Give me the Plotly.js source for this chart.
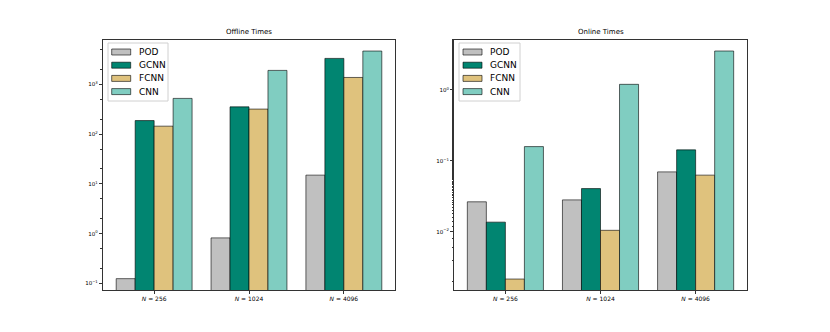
<!DOCTYPE html>
<html><head><meta charset="utf-8">
<script src="https://cdn.plot.ly/plotly-3.0.1.min.js"></script>
<style>html,body{margin:0;padding:0;background:#fff}#c{width:830px;height:332px}</style>
</head><body><div id="c"></div>
<script>
const categories = ["<i>N</i> = 256", "<i>N</i> = 1024", "<i>N</i> = 4096"];
const methods = ["POD", "GCNN", "FCNN", "CNN"];
const colors = ["#c0c0c0", "#018571", "#dfc27d", "#80cdc1"];
const offlinePOD  = [0.124, 0.82, 15];
const offlineGCNN = [188, 355, 3350];
const offlineFCNN = [145, 320, 1385];
const offlineCNN  = [525, 1920, 4710];
const onlinePOD  = [0.0265, 0.0282, 0.070];
const onlineGCNN = [0.0137, 0.0407, 0.143];
const onlineFCNN = [0.00216, 0.0105, 0.063];
const onlineCNN  = [0.159, 1.2, 3.54];
const offlineTickVals = [0.1, 1, 10, 100, 1000];
const offlineTickText = ["10<sup>\u22121</sup>", "10<sup>0</sup>", "10<sup>1</sup>", "10<sup>2</sup>", "10<sup>3</sup>"];
const onlineTickVals = [0.01, 0.1, 1];
const onlineTickText = ["10<sup>\u22122</sup>", "10<sup>\u22121</sup>", "10<sup>0</sup>"];

const offline = [offlinePOD, offlineGCNN, offlineFCNN, offlineCNN];
const online = [onlinePOD, onlineGCNN, onlineFCNN, onlineCNN];
const edge = 'rgba(0,0,0,0.6)';

const traces = [];
methods.forEach((m, i) => {
  traces.push({type:'bar', x:categories, y:offline[i], name:m, xaxis:'x', yaxis:'y',
    marker:{color:colors[i], line:{color:edge, width:1}}, showlegend:false});
});
methods.forEach((m, i) => {
  traces.push({type:'bar', x:categories, y:online[i], name:m, xaxis:'x2', yaxis:'y2',
    marker:{color:colors[i], line:{color:edge, width:1}}, showlegend:false});
});

const tf = {size:5.5, family:'DejaVu Sans', color:'#000'};
const axX = {type:'category', range:[-0.54, 2.54], showline:true, mirror:true, linecolor:'#333', linewidth:1,
  ticks:'outside', ticklen:3, tickcolor:'#333', tickfont:{size:6, family:'DejaVu Sans', color:'#000'}, showgrid:false, zeroline:false};
const axY = {type:'log', showline:true, mirror:true, linecolor:'#333', linewidth:1,
  ticks:'outside', ticklen:3, tickcolor:'#333', tickfont:tf, showgrid:false, zeroline:false,
  minor:{ticks:'outside', ticklen:1.5, tickcolor:'#333', showgrid:false}};

// manual legends (matplotlib style: wide rectangular handles)
const shapes = [];
const annotations = [];
const px = v => v / 830, py = v => 1 - v / 332;
function addLegend(boxL, boxR, symL, textL) {
  shapes.push({type:'rect', xref:'paper', yref:'paper', x0:px(boxL), x1:px(boxR), y0:py(43), y1:py(101),
    fillcolor:'rgba(255,255,255,0.8)', line:{color:'#d0d0d0', width:1}, layer:'above'});
  methods.forEach((m, i) => {
    const cy = 52 + i * 13.2;
    shapes.push({type:'rect', xref:'paper', yref:'paper', x0:px(symL), x1:px(symL + 19), y0:py(cy - 3), y1:py(cy + 3),
      fillcolor:colors[i], line:{color:edge, width:1}, layer:'above'});
    annotations.push({text:m, xref:'paper', yref:'paper', x:px(textL), y:py(cy), xanchor:'left', yanchor:'middle',
      showarrow:false, font:{size:9, family:'DejaVu Sans', color:'#000'}});
  });
}
addLegend(108, 168, 111.7, 137);
addLegend(459, 520, 463, 488);

annotations.push({text:'Offline Times', xref:'paper', yref:'paper', x:0.30, y:0.885, xanchor:'center', yanchor:'bottom', showarrow:false, font:{size:7, family:'DejaVu Sans', color:'#000'}});
annotations.push({text:'Online Times', xref:'paper', yref:'paper', x:0.7235, y:0.885, xanchor:'center', yanchor:'bottom', showarrow:false, font:{size:7, family:'DejaVu Sans', color:'#000'}});

const layout = {
  width:830, height:332, margin:{l:0, r:0, t:0, b:0},
  paper_bgcolor:'#fff', plot_bgcolor:'#fff', barmode:'group', bargap:0.2, bargroupgap:0, showlegend:false,
  xaxis:Object.assign({}, axX, {domain:[0.124, 0.476], anchor:'y'}),
  yaxis:Object.assign({}, axY, {domain:[0.1265, 0.8795], anchor:'x', range:[-1.135, 3.895], tickvals:offlineTickVals, ticktext:offlineTickText}),
  xaxis2:Object.assign({}, axX, {domain:[0.547, 0.9], anchor:'y2'}),
  yaxis2:Object.assign({}, axY, {domain:[0.1265, 0.8795], anchor:'x2', range:[-2.82, 0.704], tickvals:onlineTickVals, ticktext:onlineTickText}),
  shapes:shapes, annotations:annotations
};
Plotly.newPlot('c', traces, layout, {displayModeBar:false, staticPlot:true});
</script></body></html>
